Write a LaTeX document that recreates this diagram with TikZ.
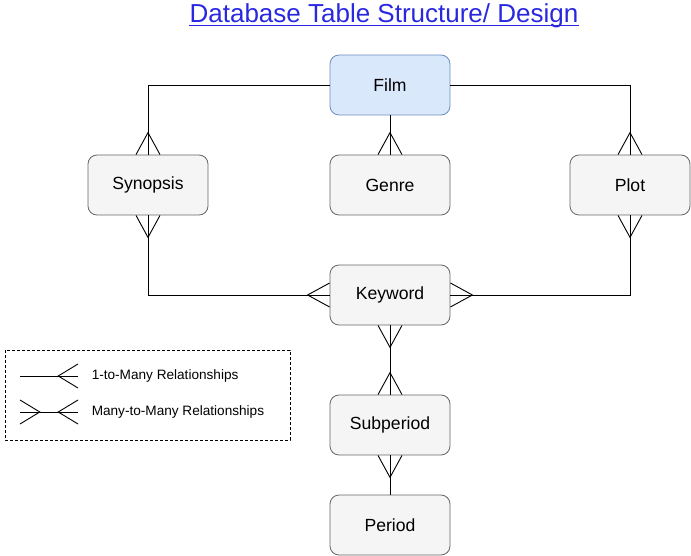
\documentclass[tikz,border=0pt]{standalone}
\usepackage{fontspec}
\setmainfont{Liberation Sans}
\definecolor{filmfill}{HTML}{DAE8FC}
\definecolor{filmline}{HTML}{6C8EBF}
\definecolor{boxfill}{HTML}{F5F5F5}
\definecolor{boxline}{HTML}{666666}
\definecolor{linkblue}{RGB}{40,40,225}

\begin{document}
\begin{tikzpicture}[x=1pt, y=1pt, line width=0.9pt,
  table/.style={draw=boxline, fill=boxfill, rounded corners=9pt, line width=0.8pt,
    minimum width=120pt, minimum height=60pt, font=\fontsize{17.6}{20}\selectfont},
  legendtext/.style={anchor=west, font=\fontsize{13.6}{16}\selectfont},
  many/.pic={\draw (-12,0) -- (0,22) -- (12,0);}]
  \useasboundingbox (0,0) rectangle (691,-556);

  % title
  \node[anchor=base, inner sep=0pt, text=linkblue, font=\fontsize{26}{29}\selectfont] (title) at (384,-23) {Database Table Structure/ Design};
  \draw[linkblue, line width=1pt] ([yshift=-3pt]title.base west) -- ([yshift=-3pt]title.base east);

  % tables
  \node[table, draw=filmline, fill=filmfill] (film) at (390,-85) {Film};
  \node[table] (synopsis) at (148,-185) {Synopsis};
  \node[table] (genre) at (390,-185) {Genre};
  \node[table] (plot) at (630,-185) {Plot};
  \node[table] (keyword) at (390,-295) {Keyword};
  \node[table] (subperiod) at (390,-425) {Subperiod};
  \node[table] (period) at (390,-525) {Period};

  % Film to Synopsis, Genre, Plot
  \draw (film.west) -| (synopsis.north);
  \draw (film.east) -| (plot.north);
  \draw (film.south) -- (genre.north);
  \pic at (synopsis.north) {many};
  \pic at (plot.north) {many};
  \pic at (genre.north) {many};

  % Synopsis, Plot to Keyword
  \draw (synopsis.south) |- (keyword.west);
  \draw (plot.south) |- (keyword.east);
  \pic[rotate=180] at (synopsis.south) {many};
  \pic[rotate=180] at (plot.south) {many};
  \pic[rotate=90] at (keyword.west) {many};
  \pic[rotate=-90] at (keyword.east) {many};

  % Keyword to Subperiod to Period
  \draw (keyword.south) -- (subperiod.north);
  \draw (subperiod.south) -- (period.north);
  \pic[rotate=180] at (keyword.south) {many};
  \pic at (subperiod.north) {many};
  \pic[rotate=180] at (subperiod.south) {many};

  % legend
  \draw[dashed, line width=0.7pt, dash pattern=on 3pt off 2pt] (5,-350) rectangle (290,-440);
  \coordinate (onea) at (20,-376);
  \coordinate (oneb) at (78,-376);
  \coordinate (twoa) at (20,-412);
  \coordinate (twob) at (78,-412);
  \draw (onea) -- (oneb);
  \pic[rotate=90, yscale=0.9] at (oneb) {many};
  \node[legendtext] (onetext) at (88,-376) {1-to-Many Relationships};
  \draw (twoa) -- (twob);
  \pic[rotate=-90, yscale=0.9] at (twoa) {many};
  \pic[rotate=90, yscale=0.9] at (twob) {many};
  \node[legendtext] (twotext) at (88,-412) {Many-to-Many Relationships};
\end{tikzpicture}
\end{document}
